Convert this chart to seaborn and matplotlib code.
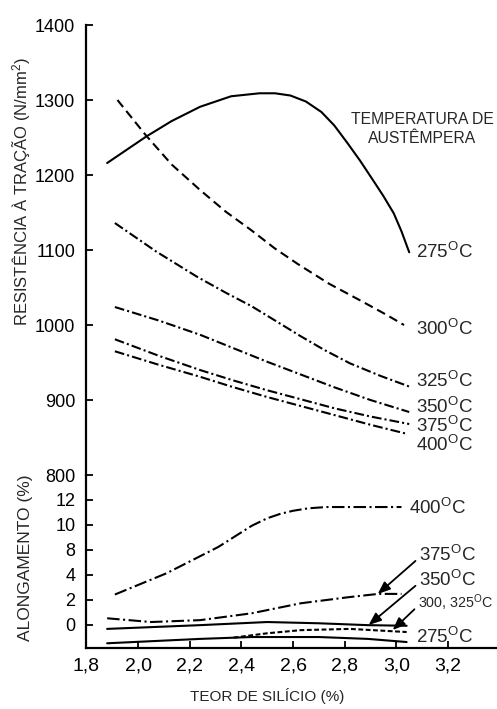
import numpy as np
import matplotlib
matplotlib.use('Agg')
import matplotlib.pyplot as plt
import seaborn as sns

# --- DATA ---
# Upper panel: tensile strength (N/mm2) vs silicon content (%)
SI_R275 = [1.88, 2.03, 2.13, 2.24, 2.36, 2.47, 2.53, 2.59, 2.65, 2.71, 2.76,
           2.81, 2.86, 2.91, 2.95, 2.99, 3.02, 3.05]
RES_275 = [1216, 1251, 1272, 1291, 1305, 1309, 1309, 1306, 1298, 1284, 1266,
           1243, 1219, 1193, 1172, 1149, 1125, 1097]
SI_R300 = [1.92, 2.03, 2.13, 2.24, 2.34, 2.44, 2.53, 2.62, 2.74, 2.87, 2.96, 3.03]
RES_300 = [1300, 1253, 1214, 1180, 1151, 1126, 1102, 1081, 1055, 1031, 1014, 1000]
SI_R325 = [1.91, 2.07, 2.23, 2.34, 2.44, 2.54, 2.63, 2.72, 2.82, 2.94, 3.05]
RES_325 = [1136, 1098, 1064, 1043, 1025, 1004, 985, 967, 949, 932, 918]
SI_R350 = [1.91, 2.08, 2.24, 2.37, 2.50, 2.63, 2.76, 2.90, 3.05]
RES_350 = [1024, 1006, 987, 969, 951, 934, 917, 900, 884]
SI_R375 = [1.91, 2.08, 2.24, 2.37, 2.50, 2.63, 2.76, 2.90, 3.05]
RES_375 = [981, 959, 940, 926, 913, 901, 889, 878, 868]
SI_R400 = [1.91, 2.08, 2.24, 2.37, 2.50, 2.63, 2.76, 2.90, 3.04]
RES_400 = [965, 947, 931, 917, 904, 892, 880, 867, 855]

# Lower panel: elongation (%) vs silicon content (%)
SI_A400 = [1.91, 2.11, 2.31, 2.44, 2.50, 2.55, 2.60, 2.66, 2.73, 3.02]
ALO_400 = [2.4, 4.2, 8.2, 9.9, 10.5, 10.85, 11.1, 11.3, 11.4, 11.4]
SI_A375 = [1.88, 2.05, 2.24, 2.44, 2.63, 2.82, 2.93, 3.02]
ALO_375 = [0.5, 0.2, 0.35, 0.9, 1.7, 2.2, 2.45, 2.45]
SI_A350 = [1.88, 2.24, 2.50, 2.70, 2.89, 3.04]
ALO_350 = [-0.35, -0.05, 0.2, 0.1, -0.05, -0.1]
SI_A300 = [2.37, 2.50, 2.63, 2.82, 3.04]
ALO_300 = [-1.05, -0.7, -0.45, -0.35, -0.6]
SI_A275 = [1.88, 2.24, 2.44, 2.70, 2.89, 3.04]
ALO_275 = [-1.5, -1.15, -1.0, -1.0, -1.15, -1.4]

RES_TICKS = [800, 900, 1000, 1100, 1200, 1300, 1400]
ALO_TICKS = [0, 2, 4, 8, 10, 12]
SI_TICKS = [1.8, 2.0, 2.2, 2.4, 2.6, 2.8, 3.0, 3.2]
SI_TICKLABELS = ['1,8', '2,0', '2,2', '2,4', '2,6', '2,8', '3,0', '3,2']

DEG = '$^{O}$C'


# the elongation axis of the original is not linear (4 -> 8 takes one step)
def alo_fwd(v):
    v = np.asarray(v, dtype=float)
    return np.where(v < 4, v, np.where(v < 8, 4 + (v - 4) / 2, v - 2))


def alo_inv(p):
    p = np.asarray(p, dtype=float)
    return np.where(p < 4, p, np.where(p < 6, 4 + (p - 4) * 2, p + 2))


# --- STYLE ---
sns.set_style('ticks')
plt.rcParams['font.family'] = ['Liberation Sans', 'DejaVu Sans']
plt.rcParams['mathtext.default'] = 'regular'
plt.rcParams['lines.scale_dashes'] = False

SOLID = '-'
DASHED = (0, (6.5, 3.6))
DASHDOT = (0, (7, 2.2, 1.5, 2.2))
DASHDOT_LONG = (0, (9, 2.5, 1.5, 2.5))
LW = 1.5
LABEL_FS = 13.5

fig = plt.figure(figsize=(4.97, 7.09), dpi=100)
ax_top = fig.add_axes([0.174, 0.330, 0.826, 0.6347])
ax_bot = fig.add_axes([0.174, 0.086, 0.826, 0.244])
ax_bot.set_yscale('function', functions=(alo_fwd, alo_inv))

# --- upper panel ---
top_series = [
    (SI_R275, RES_275, SOLID),
    (SI_R300, RES_300, DASHED),
    (SI_R325, RES_325, DASHDOT),
    (SI_R350, RES_350, DASHDOT),
    (SI_R375, RES_375, DASHDOT),
    (SI_R400, RES_400, DASHDOT),
]
for xs, ys, ls in top_series:
    sns.lineplot(x=xs, y=ys, ax=ax_top, color='black', lw=LW, linestyle=ls,
                 estimator=None, sort=False)

top_labels = [('275', 1097), ('300', 995), ('325', 925),
              ('350', 891), ('375', 865), ('400', 840)]
for t, v in top_labels:
    ax_top.text(3.076, v, t + DEG, fontsize=LABEL_FS, ha='left', va='center')
ax_top.text(3.100, 1261, 'TEMPERATURA DE\nAUSTÊMPERA', fontsize=11.3,
            ha='center', va='center', linespacing=1.3)

ax_top.set_xlim(1.8, 3.39)
ax_top.set_ylim(800, 1400)
ax_top.set_yticks(RES_TICKS)
ax_top.set_xticks([])
for s in ['top', 'right', 'bottom']:
    ax_top.spines[s].set_visible(False)

# --- lower panel ---
bot_series = [
    (SI_A400, ALO_400, DASHDOT_LONG),
    (SI_A375, ALO_375, DASHDOT_LONG),
    (SI_A350, ALO_350, SOLID),
    (SI_A300, ALO_300, (0, (3.5, 1.8))),
    (SI_A275, ALO_275, SOLID),
]
for xs, ys, ls in bot_series:
    sns.lineplot(x=xs, y=ys, ax=ax_bot, color='black', lw=LW, linestyle=ls,
                 estimator=None, sort=False)

arrow = dict(arrowstyle='-|>,head_length=0.5,head_width=0.2', color='black',
             lw=1.3, mutation_scale=15, shrinkA=0, shrinkB=0, relpos=(0, 0.35))
ax_bot.annotate('375' + DEG, xy=(2.928, 2.44), xytext=(3.087, 7.12),
                fontsize=LABEL_FS, ha='left', va='center', arrowprops=arrow)
ax_bot.annotate('350' + DEG, xy=(2.893, -0.04), xytext=(3.087, 3.56),
                fontsize=LABEL_FS, ha='left', va='center', arrowprops=arrow)
ax_bot.annotate('300, 325' + DEG, xy=(2.986, -0.44), xytext=(3.083, 1.72),
                fontsize=10.3, ha='left', va='center', arrowprops=arrow)
ax_bot.text(3.076, -1.0, '275' + DEG, fontsize=LABEL_FS, ha='left', va='center')
ax_bot.text(3.048, 11.32, '400' + DEG, fontsize=LABEL_FS, ha='left', va='center')

ax_bot.set_xlim(1.8, 3.39)
ax_bot.set_ylim(-1.88, 13.96)
ax_bot.set_yticks(ALO_TICKS)
ax_bot.set_yticklabels([str(t) for t in ALO_TICKS])
ax_bot.yaxis.set_minor_locator(matplotlib.ticker.NullLocator())
ax_bot.set_xticks(SI_TICKS)
ax_bot.set_xticklabels(SI_TICKLABELS)
for s in ['top', 'right']:
    ax_bot.spines[s].set_visible(False)

for ax in (ax_top, ax_bot):
    ax.set_facecolor('none')
    for s in ['left', 'bottom']:
        ax.spines[s].set_linewidth(1.6)
        ax.spines[s].set_color('black')
    ax.tick_params(axis='y', direction='in', length=5, width=1.3,
                   labelsize=13, pad=8, color='black', labelcolor='black')
ax_bot.tick_params(axis='x', direction='in', length=5, width=1.3,
                   labelsize=14, pad=7, color='black', labelcolor='black')

# --- axis titles ---
fig.text(0.043, 0.729, 'RESISTÊNCIA À TRAÇÃO (N/mm$^2$)', rotation=90,
         fontsize=12, ha='center', va='center')
fig.text(0.052, 0.214, 'ALONGAMENTO (%)', rotation=90,
         fontsize=12.5, ha='center', va='center')
fig.text(0.537, 0.019, 'TEOR DE SILÍCIO (%)', fontsize=11,
         ha='center', va='center')

fig.savefig('out.png', dpi=100, facecolor='white')
